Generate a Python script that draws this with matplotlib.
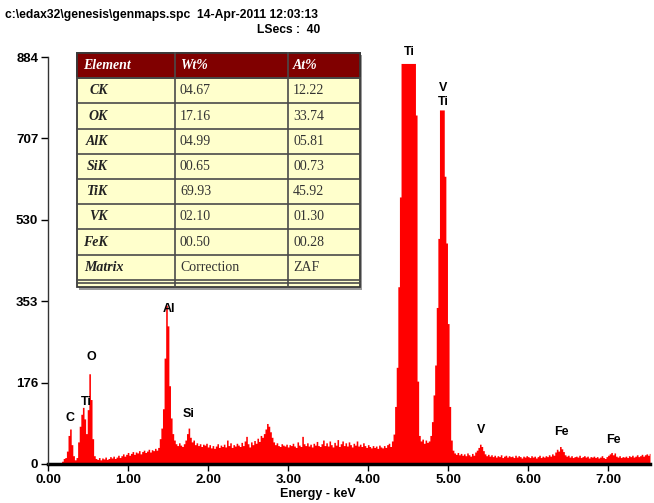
import numpy as np
import matplotlib
matplotlib.use("Agg")
import matplotlib.pyplot as plt
from matplotlib.patches import Rectangle

plt.rcParams['font.family'] = ['Liberation Sans', 'DejaVu Sans']

# EDS spectrum, 0.02 keV channels starting at 0.00 keV (counts)
channel_kev = 0.02
counts = [
    0, 0, 0, 0, 0, 0, 0, 0, 2, 6,                          # 0.00
    12, 14, 28, 62, 76, 42, 18, 9, 14, 48,                 # 0.20
    82, 108, 123, 98, 66, 118, 196, 140, 55, 18,           # 0.40
    12, 10, 14, 9, 13, 11, 15, 10, 12, 16,                 # 0.60
    13, 17, 12, 15, 19, 14, 18, 22, 17, 21,                # 0.80
    25, 19, 23, 27, 21, 26, 24, 29, 22, 27,                # 1.00
    30, 25, 28, 32, 26, 31, 29, 34, 30, 36,                # 1.20
    55, 78, 120, 230, 345, 300, 170, 100, 66, 52,          # 1.40
    44, 40, 46, 41, 38, 44, 52, 66, 78, 58,                # 1.60
    48, 52, 42, 46, 40, 44, 38, 43, 41, 45,                # 1.80
    37, 42, 35, 40, 34, 39, 44, 36, 41, 38,                # 2.00
    43, 37, 52, 40, 46, 36, 42, 39, 45, 41,                # 2.20
    38, 47, 40, 50, 60, 44, 37, 48, 42, 51,                # 2.40
    45, 56, 49, 62, 58, 66, 76, 88, 82, 70,                # 2.60
    58, 48, 42, 46, 40, 38, 44, 41, 39, 43,                # 2.80
    37, 42, 40, 45, 39, 36, 48, 41, 38, 60,                # 3.00
    44, 40, 46, 39, 43, 37, 45, 41, 49, 40,                # 3.20
    38, 44, 52, 40, 46, 39, 50, 42, 37, 47,                # 3.40
    41, 53, 38, 44, 50, 40, 46, 39, 48, 42,                # 3.60
    37, 45, 41, 50, 39, 43, 38, 46, 40, 36,                # 3.80
    42, 38, 35, 40, 36, 39, 34, 41, 37, 35,                # 4.00
    40, 36, 42, 45, 38, 50, 65, 125, 210, 385,             # 4.20
    580, 870, 870, 870, 870, 870, 870, 870, 870, 870,      # 4.40
    758, 180, 62, 50, 54, 45, 52, 47, 50, 62,              # 4.60
    92, 150, 215, 340, 490, 769, 769, 769, 625, 480,       # 4.80
    305, 125, 52, 30, 24, 21, 25, 20, 23, 19,              # 5.00
    22, 18, 24, 20, 17, 23, 19, 26, 30, 36,                # 5.20
    43, 38, 29, 22, 18, 21, 17, 20, 16, 19,                # 5.40
    15, 18, 16, 20, 14, 17, 19, 15, 18, 16,                # 5.60
    17, 14, 19, 15, 18, 16, 13, 17, 15, 18,                # 5.80
    16, 14, 18, 15, 17, 13, 16, 19, 14, 17,                # 6.00
    15, 18, 16, 20, 17, 22, 19, 26, 32, 28,                # 6.20
    38, 33, 27, 20, 17, 19, 15, 18, 14, 16,                # 6.40
    17, 15, 19, 14, 16, 18, 15, 17, 13, 16,                # 6.60
    15, 17, 14, 16, 13, 15, 18, 14, 12, 16,                # 6.80
    19, 22, 25, 20, 24, 17, 15, 18, 14, 16,                # 7.00
    15, 17, 14, 18, 16, 19, 15, 17, 20, 16,                # 7.20
    18, 21, 17, 20, 22, 19, 23,                            # 7.40
]
energy = np.arange(len(counts)) * channel_kev

y_ticks = [0, 176, 353, 530, 707, 884]
x_ticks = [0, 1, 2, 3, 4, 5, 6, 7]

# peak labels: (text, keV, counts)
peak_labels = [("C", 0.275, 100), ("Ti", 0.475, 135), ("O", 0.54, 232),
               ("Al", 1.51, 337), ("Si", 1.76, 109), ("Ti", 4.51, 895),
               ("V", 4.94, 816), ("Ti", 4.94, 786), ("V", 5.41, 74),
               ("Fe", 6.41, 69), ("Fe", 7.06, 52)]

# quantification table
elements = ["CK", "OK", "AlK", "SiK", "TiK", "VK", "FeK"]
wt_pct = ["04.67", "17.16", "04.99", "00.65", "69.93", "02.10", "00.50"]
at_pct = ["12.22", "33.74", "05.81", "00.73", "45.92", "01.30", "00.28"]

W, H = 654, 503
fig = plt.figure(figsize=(W / 100, H / 100), dpi=100)
ax = fig.add_axes([48 / W, 1 - 464 / H, 602 / W, 407 / H])

ax.fill_between(energy, counts, step='mid', color='#ff0000', lw=0)
ax.set_xlim(0, 7.52)
ax.set_ylim(0, 884)

ax.set_yticks(y_ticks)
ax.set_yticklabels([str(v) for v in y_ticks])
ax.set_xticks(x_ticks)
ax.set_xticklabels(["%.2f" % v for v in x_ticks])
ax.tick_params(direction='out', length=5, width=1, labelsize=9.5, pad=2)
for lab in ax.get_xticklabels() + ax.get_yticklabels():
    lab.set_fontweight('bold')

ax.spines[['right', 'top']].set_visible(False)
ax.spines['bottom'].set_linewidth(2.5)
ax.spines['left'].set_linewidth(1)
ax.spines['left'].set_color('#333333')
ax.spines['left'].set_zorder(3)

ax.set_xlabel("Energy - keV", fontsize=9, fontweight='bold')
ax.xaxis.set_label_coords(0.449, -0.058)

for txt, xk, yc in peak_labels:
    ax.text(xk, yc, txt, ha='center', va='center', fontsize=9,
            fontweight='bold', color='black')

fig.text(5 / W, 1 - 15 / H, "c:\\edax32\\genesis\\genmaps.spc  14-Apr-2011 12:03:13",
         ha='left', va='center', fontsize=8.7, fontweight='bold')
fig.text(320 / W, 1 - 30 / H, "LSecs :  40", ha='right', va='center',
         fontsize=8.7, fontweight='bold')

# table overlay in pixel coordinates
tx = fig.add_axes([0, 0, 1, 1], zorder=5)
tx.set_xlim(0, W)
tx.set_ylim(H, 0)
tx.axis('off')
tx.patch.set_visible(False)

left, c1, c2, right = 77, 175, 288, 360
top, row_h = 53, 25.2
n_rows = len(elements) + 2
bottom = top + row_h * n_rows
tx.add_patch(Rectangle((left + 2, top + 2), right - left, bottom - top + 8,
                       color='#9a9a9a', lw=0))
tx.add_patch(Rectangle((left, top), right - left, bottom - top + 7,
                       facecolor='#ffffcc', edgecolor='#3a3a3a', lw=1.3))
tx.add_patch(Rectangle((left, top), right - left, row_h,
                       facecolor='#800000', edgecolor='#3a3a3a', lw=1.3))
for i in range(1, n_rows + 1):
    yy = top + row_h * i
    tx.plot([left, right], [yy, yy], color='#4a4a4a', lw=1.2)
tx.plot([left, right], [bottom + 3.5, bottom + 3.5], color='#4a4a4a', lw=1.2)
for xx in (c1, c2):
    tx.plot([xx, xx], [top, bottom + 7], color='#4a4a4a', lw=1.2)

serif = ['Liberation Serif', 'DejaVu Serif']
fs = 10
hdr_y = top + row_h / 2
for xx, txt in ((83, "Element"), (180, "Wt%"), (293, "At%")):
    tx.text(xx, hdr_y, txt, color='white', fontsize=fs, fontweight='bold',
            fontstyle='italic', family=serif, ha='left', va='center')

for i, (el, w, a) in enumerate(zip(elements, wt_pct, at_pct)):
    yy = top + row_h * (i + 1.5)
    tx.text(108, yy, el, fontsize=fs, fontweight='bold', fontstyle='italic',
            family=serif, ha='right', va='center', color='#222222')
    tx.text(180, yy, w, fontsize=fs, family=serif, ha='left', va='center',
            color='#333333')
    tx.text(293, yy, a, fontsize=fs, family=serif, ha='left', va='center',
            color='#333333')

yy = top + row_h * (len(elements) + 1.5)
tx.text(84, yy, "Matrix", fontsize=fs, fontweight='bold', fontstyle='italic',
        family=serif, ha='left', va='center', color='#222222')
tx.text(180, yy, "Correction", fontsize=fs, family=serif, ha='left',
        va='center', color='#333333')
tx.text(293, yy, "ZAF", fontsize=fs, family=serif, ha='left', va='center',
        color='#333333')

fig.savefig("out.png", dpi=100)
